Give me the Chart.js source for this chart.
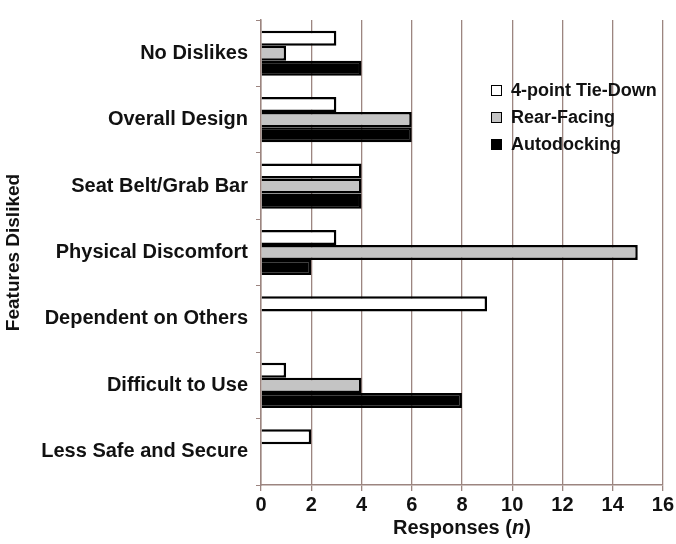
<!DOCTYPE html>
<html><head><meta charset="utf-8">
<script src="https://cdn.jsdelivr.net/npm/chart.js@4"></script>
<style>
html,body{margin:0;padding:0;background:#fff;}
#wrap{position:relative;width:676px;height:544px;}
#legend{position:absolute;left:491px;top:77px;font:bold 18px "Liberation Sans",Arial,sans-serif;color:#111;line-height:27px;}
#legend .it{display:flex;align-items:center;}
#legend .sw{width:11px;height:11px;border:1.5px solid #000;margin-right:9px;box-sizing:border-box;}
</style></head>
<body><div id="wrap"><canvas id="c" width="676" height="544"></canvas>
<div id="legend"></div></div>
<script>
const categories = ["No Dislikes","Overall Design","Seat Belt/Grab Bar","Physical Discomfort","Dependent on Others","Difficult to Use","Less Safe and Secure"];
const seriesNames = ["4-point Tie-Down","Rear-Facing","Autodocking"];
const tieDown = [3,3,4,3,9,1,2];
const rearFacing = [1,6,4,15,0,4,0];
const autodocking = [4,6,4,2,0,8,0];
const xTicks = [0,2,4,6,8,10,12,14,16];

const fills = ["#ffffff","#c4c4c4","#000000"];
const FONT = '"Liberation Sans", Arial, sans-serif';

const lg = document.getElementById('legend');
seriesNames.forEach((n,i)=>{
  const d=document.createElement('div');d.className='it';
  d.innerHTML='<span class="sw" style="background:'+fills[i]+'"></span>'+n;
  lg.appendChild(d);
});

const xTitlePlugin = {
  id:'xTitle',
  afterDraw(chart){
    const ctx=chart.ctx; const a=chart.chartArea;
    const cx=(a.left+a.right)/2, y=534;
    ctx.save();
    ctx.fillStyle='#111'; ctx.textBaseline='alphabetic';
    const f1='bold 20px '+FONT, f2='italic bold 20px '+FONT;
    const p=["Responses (","n",")"], fs=[f1,f2,f1];
    let w=0; const ws=p.map((t,i)=>{ctx.font=fs[i];const m=ctx.measureText(t).width;w+=m;return m;});
    let x=cx-w/2;
    p.forEach((t,i)=>{ctx.font=fs[i];ctx.textAlign='left';ctx.fillText(t,x,y);x+=ws[i];});
    ctx.restore();
  }
};

new Chart(document.getElementById('c'),{
  type:'bar',
  data:{labels:categories,datasets:[
    {label:seriesNames[0],data:tieDown,backgroundColor:fills[0],borderColor:'#000',borderWidth:2.5},
    {label:seriesNames[1],data:rearFacing,backgroundColor:fills[1],borderColor:'#000',borderWidth:2.5},
    {label:seriesNames[2],data:autodocking,backgroundColor:fills[2],borderColor:'#000',borderWidth:2.5}
  ]},
  options:{
    indexAxis:'y',responsive:false,animation:false,
    layout:{padding:{left:0,right:10,top:15,bottom:0}},
    datasets:{bar:{categoryPercentage:0.68,barPercentage:1.0}},
    plugins:{legend:{display:false},tooltip:{enabled:false}},
    scales:{
      x:{min:0,max:16,
        afterBuildTicks(s){s.ticks=xTicks.map(v=>({value:v}));},
        afterFit(s){s.height=59;},
        grid:{color:'#9c8580',lineWidth:1.3,tickLength:6,drawTicks:true},
        border:{color:'#9c8580',width:1.5},
        ticks:{color:'#111',font:{family:FONT,size:20,weight:'bold'},padding:2,autoSkip:false,maxRotation:0}
      },
      y:{
        afterFit(s){s.width=261;},
        grid:{drawOnChartArea:false,color:'#9c8580',tickLength:5,offset:true},
        border:{color:'#9c8580',width:1.5},
        ticks:{color:'#111',font:{family:FONT,size:20,weight:'bold'},padding:8,autoSkip:false},
        title:{display:true,text:'Features Disliked',color:'#111',font:{family:FONT,size:19,weight:'bold'},padding:{top:2,bottom:0}}
      }
    }
  },
  plugins:[xTitlePlugin]
});
</script></body></html>
